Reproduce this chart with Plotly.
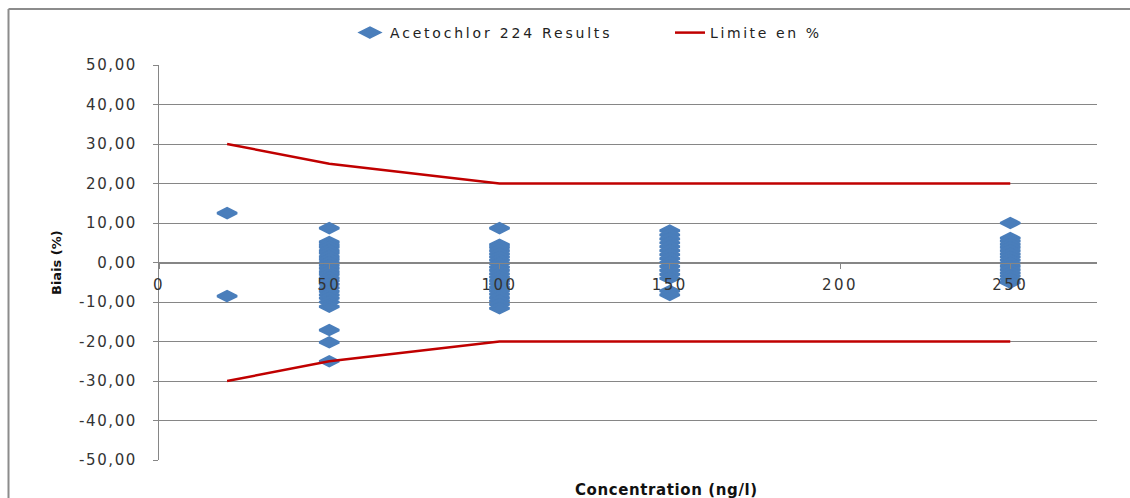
import plotly.graph_objects as go

# ---- data ----
conc_20 = [12.5, -8.5]
conc_50 = [8.7, 5.2, 4.5, 3.9, 3.0, 2.4, 1.5, 0.8, 0.0, -0.7, -1.5, -2.3, -3.0,
           -3.9, -4.6, -5.5, -6.4, -7.3, -8.2, -9.0, -10.0, -11.2, -17.1, -20.2, -25.0]
conc_100 = [8.7, 4.5, 3.8, 3.0, 2.2, 1.4, 0.6, -0.3, -1.2, -2.0, -2.9, -3.7, -4.6,
            -5.4, -6.3, -7.2, -8.0, -8.9, -9.7, -10.6, -11.6]
conc_150 = [8.1, 7.0, 6.0, 5.0, 4.0, 3.0, 2.0, 1.0, 0.0, -1.0, -2.0, -3.0, -4.0, -7.2, -8.2]
conc_250 = [10.0, 6.2, 5.4, 4.6, 3.8, 3.0, 2.2, 1.4, 0.6, -0.2, -1.0, -1.8, -2.6,
            -3.4, -4.2, -5.1]
groups = {20: conc_20, 50: conc_50, 100: conc_100, 150: conc_150, 250: conc_250}

limit_x = [20, 50, 100, 250]
limit_upper = [30, 25, 20, 20]
limit_lower = [-30, -25, -20, -20]

y_ticks = [50, 40, 30, 20, 10, 0, -10, -20, -30, -40, -50]
y_ticklabels = ["50,00", "40,00", "30,00", "20,00", "10,00", "0,00", "-10,00",
                "-20,00", "-30,00", "-40,00", "-50,00"]
x_ticks = [0, 50, 100, 150, 200, 250]
x_ticklabels = ["0", "50", "100", "150", "200", "250"]

series_name = "Acetochlor 224 Results"
limit_name = "Limite en %"
x_title = "Concentration (ng/l)"
y_title = "Biais (%)"

# ---- layout geometry ----
W, H = 1130, 498
ML, MR, MT, MB = 159, 33, 65, 38
PW, PH = W - ML - MR, H - MT - MB


def px_x(px):
    return (px - ML) / PW


def px_y(py):
    return 1 - (py - MT) / PH


def sp(t, ls):
    return '<span style="letter-spacing:%spx">%s</span>' % (ls, t)


BLUE = "#4A7EBB"
RED = "#C00000"
GRID = "#868686"
FONT = "DejaVu Sans"

xs, ys = [], []
for c, vals in groups.items():
    xs += [c] * len(vals)
    ys += vals

fig = go.Figure()
fig.add_trace(go.Scatter(
    x=xs, y=ys, mode="markers", name=sp(series_name, 2.8),
    marker=dict(symbol="diamond-wide", size=14, color=BLUE,
                line=dict(color=BLUE, width=2.5)),
))
fig.add_trace(go.Scatter(
    x=limit_x, y=limit_upper, mode="lines", name=sp(limit_name, 2.6),
    line=dict(color=RED, width=2.5), legendgroup="lim",
))
fig.add_trace(go.Scatter(
    x=limit_x, y=limit_lower, mode="lines", name=limit_name, showlegend=False,
    line=dict(color=RED, width=2.5), legendgroup="lim",
))

fig.update_layout(
    width=W, height=H,
    margin=dict(l=ML, r=MR, t=MT, b=MB),
    paper_bgcolor="white", plot_bgcolor="white",
    font=dict(family=FONT, size=14, color="#333333"),
    showlegend=True,
    legend=dict(orientation="h", x=px_x(350), xanchor="left",
                y=px_y(33), yanchor="middle",
                font=dict(family=FONT, size=14, color="#222222"),
                entrywidth=275, entrywidthmode="pixels",
                bgcolor="rgba(0,0,0,0)"),
    xaxis=dict(range=[0, PW / 3.405], anchor="free", position=0.5,
               showgrid=False, zeroline=False, showline=True,
               linecolor=GRID, linewidth=1, ticks="outside", ticklen=5,
               tickcolor=GRID, tickvals=x_ticks,
               ticktext=[sp(t, 2.5) for t in x_ticklabels],
               tickfont=dict(family=FONT, size=15, color="#333333"),
               ticklabelstandoff=3),
    yaxis=dict(range=[-50, 50], tickvals=y_ticks,
               ticktext=[sp(t, 1.6) for t in y_ticklabels],
               showgrid=True, gridcolor=GRID, gridwidth=1, zeroline=False,
               showline=True, linecolor=GRID, linewidth=1,
               ticks="outside", ticklen=5, tickcolor=GRID,
               tickfont=dict(family=FONT, size=15, color="#333333"),
               ticklabelstandoff=13),
    annotations=[
        dict(text=sp(x_title, 0.6), xref="paper", yref="paper",
             x=px_x(666), y=px_y(490), xanchor="center", yanchor="middle",
             showarrow=False, font=dict(family=FONT, size=15, color="#111111",
                                        weight="bold")),
        dict(text=y_title, xref="paper", yref="paper", textangle=-90,
             x=px_x(56), y=px_y(263), xanchor="center", yanchor="middle",
             showarrow=False, font=dict(family=FONT, size=13, color="#111111",
                                        weight="bold")),
    ],
    shapes=[
        dict(type="line", xref="paper", yref="paper", x0=px_x(8.5), x1=px_x(1130),
             y0=px_y(9), y1=px_y(9), line=dict(color="#8C8C8C", width=2)),
        dict(type="line", xref="paper", yref="paper", x0=px_x(8.5), x1=px_x(8.5),
             y0=px_y(9), y1=px_y(498), line=dict(color="#8C8C8C", width=2)),
    ],
)

fig.write_html("out.html")
